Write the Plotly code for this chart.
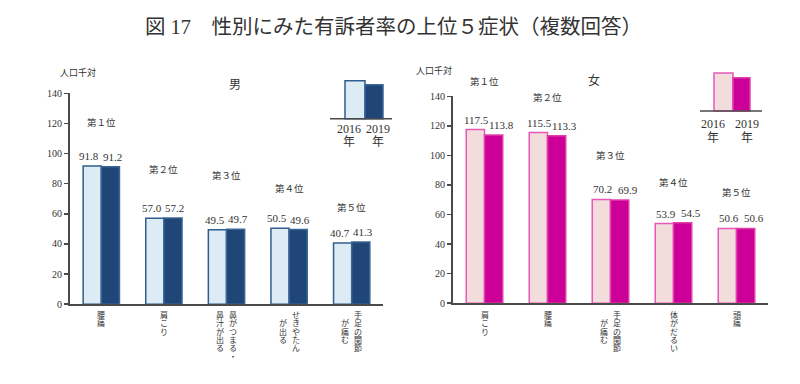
import plotly.graph_objects as go

# ---------------- data ----------------
men_categories = ["腰痛", "肩こり", "鼻がつまる・鼻汁が出る", "せきやたんが出る", "手足の関節が痛む"]
men_2016 = [91.8, 57.0, 49.5, 50.5, 40.7]
men_2019 = [91.2, 57.2, 49.7, 49.6, 41.3]
men_label_columns = [["腰痛"], ["肩こり"], ["鼻がつまる・", "鼻汁が出る"], ["せきやたん", "　が出る"], ["手足の関節", "　が痛む"]]

women_categories = ["肩こり", "腰痛", "手足の関節が痛む", "体がだるい", "頭痛"]
women_2016 = [117.5, 115.5, 70.2, 53.9, 50.6]
women_2019 = [113.8, 113.3, 69.9, 54.5, 50.6]
women_label_columns = [["肩こり"], ["腰痛"], ["手足の関節", "　が痛む"], ["体がだるい"], ["頭痛"]]

rank_labels = ["第１位", "第２位", "第３位", "第４位", "第５位"]
year_labels = ["2016", "2019"]
y_ticks = [0, 20, 40, 60, 80, 100, 120, 140]

# ---------------- style ----------------
W, H = 800, 384
SERIF = "Liberation Serif, Noto Sans CJK JP, serif"
TXT = "#333333"
AX = "#4a4a4a"
men_colors = dict(f16="#DCEBF4", l16="#2F5D8C", f19="#1F4677", l19="#3A6797")
wom_colors = dict(f16="#F2DCDC", l16="#E659B8", f19="#CC0099", l19="#E040A8")
# rank label vertical positions (page px) – layout only
men_rank_px = [121, 169, 176, 189, 208]
wom_rank_px = [79, 95, 155, 183, 193]
# horizontal offsets (px) of value labels relative to group centre – layout only
men_val_shift = (-12, 11)
wom_val_shift = (-8, 17)


def px(x):
    return x / W


def py(y):
    return 1 - y / H


fig = go.Figure()


def add_bars(cats, v16, v19, c, xa, ya):
    for name, vals, f, l in [(year_labels[0], v16, c["f16"], c["l16"]),
                             (year_labels[1], v19, c["f19"], c["l19"])]:
        fig.add_trace(go.Bar(
            x=cats, y=vals, name=name, xaxis=xa, yaxis=ya,
            marker=dict(color=f, line=dict(color=l, width=1.5)),
            showlegend=False, hoverinfo="skip"))


add_bars(men_categories, men_2016, men_2019, men_colors, "x", "y")
add_bars(women_categories, women_2016, women_2019, wom_colors, "x2", "y2")

axis_common_x = dict(type="category", showticklabels=False, showline=True,
                     linecolor=AX, linewidth=2, ticks="", showgrid=False,
                     range=[-0.5, 4.5], fixedrange=True, zeroline=False)
axis_common_y = dict(range=[0, 140], tickvals=y_ticks, ticks="outside", ticklen=4,
                     tickcolor=AX, tickwidth=1.5, showline=True, linecolor=AX,
                     linewidth=2, showgrid=False, zeroline=False, fixedrange=True,
                     tickfont=dict(family=SERIF, size=10, color=TXT))

fig.update_layout(
    width=W, height=H, margin=dict(l=0, r=0, t=0, b=0),
    paper_bgcolor="white", plot_bgcolor="white",
    barmode="group", bargap=0.42, bargroupgap=0,
    xaxis=dict(domain=[px(70), px(383)], anchor="y", **axis_common_x),
    yaxis=dict(domain=[py(308), py(91)], anchor="x", **axis_common_y),
    xaxis2=dict(domain=[px(453), px(768)], anchor="y2", **axis_common_x),
    yaxis2=dict(domain=[py(307), py(94)], anchor="x2", **axis_common_y),
    showlegend=False,
)

ann = []


def ptext(text, x, y, size, **kw):
    d = dict(text=text, x=px(x), y=py(y), xref="paper", yref="paper",
             xanchor="center", yanchor="middle", showarrow=False,
             font=dict(family=SERIF, size=size, color=TXT))
    d.update(kw)
    ann.append(d)


# title
ptext("図 17　性別にみた有訴者率の上位５症状（複数回答）", 393, 23, 20.5)
# unit labels and panel headers
ptext("人口千対", 78, 70, 9)
ptext("人口千対", 434, 67, 9)
ptext("男", 235, 82, 12)
ptext("女", 594, 78, 12)

# value labels (positioned from the data through the axes)
for cats, v16, v19, shifts, xr, yr in [
        (men_categories, men_2016, men_2019, men_val_shift, "x", "y"),
        (women_categories, women_2016, women_2019, wom_val_shift, "x2", "y2")]:
    for vals, sh in [(v16, shifts[0]), (v19, shifts[1])]:
        for cat, v in zip(cats, vals):
            ann.append(dict(text=f"{v:.1f}", x=cat, y=v, xref=xr, yref=yr,
                            xshift=sh, yshift=2, xanchor="center", yanchor="bottom",
                            showarrow=False,
                            font=dict(family=SERIF, size=11, color=TXT)))

# rank labels
for cats, ys, xr in [(men_categories, men_rank_px, "x"), (women_categories, wom_rank_px, "x2")]:
    for cat, yv, r in zip(cats, ys, rank_labels):
        ann.append(dict(text=r, x=cat, y=py(yv), xref=xr, yref="paper", showarrow=False,
                        xanchor="center", yanchor="middle",
                        font=dict(family=SERIF, size=9.5, color=TXT)))

# vertical category labels
CH = 8.6
for cats, cols, xr, top in [(men_categories, men_label_columns, "x", 313),
                            (women_categories, women_label_columns, "x2", 313)]:
    for cat, columns in zip(cats, cols):
        n = len(columns)
        for ci, col in enumerate(columns):
            shift = 0 if n == 1 else (6.5 if ci == 0 else -6.5)
            for k, ch in enumerate(col):
                if ch == "　":
                    continue
                ann.append(dict(text=ch, x=cat, xref=xr, xshift=shift,
                                y=py(top + k * CH), yref="paper",
                                xanchor="center", yanchor="top",
                                height=CH, valign="middle",
                                showarrow=False,
                                font=dict(family=SERIF, size=8, color=TXT)))

# legend insets
shapes = []
for (b16, b19, base, xl, xr_, yl, c) in [
        ((345, 365, 78), (365, 383, 82), 117, 330, 392, (349, 378, 128, 141), men_colors),
        ((714, 733, 70), (733, 750, 75), 109, 700, 762, (713, 747, 123, 137), wom_colors)]:
    shapes.append(dict(type="rect", xref="paper", yref="paper",
                       x0=px(b16[0]), x1=px(b16[1]), y0=py(base), y1=py(b16[2]),
                       fillcolor=c["f16"], line=dict(color=c["l16"], width=1.5)))
    shapes.append(dict(type="rect", xref="paper", yref="paper",
                       x0=px(b19[0]), x1=px(b19[1]), y0=py(base), y1=py(b19[2]),
                       fillcolor=c["f19"], line=dict(color=c["l19"], width=1.5)))
    shapes.append(dict(type="line", xref="paper", yref="paper",
                       x0=px(xl), x1=px(xr_), y0=py(base), y1=py(base),
                       line=dict(color=AX, width=1.5)))
    for xx, lab in zip(yl[:2], year_labels):
        ptext(lab, xx, yl[2], 12)
        ptext("年", xx, yl[3], 12)

fig.update_layout(annotations=ann, shapes=shapes)
fig.write_html("out.html", config={"displayModeBar": False, "staticPlot": True},
               post_script="document.body.style.margin='0';document.body.style.overflow='hidden';")
